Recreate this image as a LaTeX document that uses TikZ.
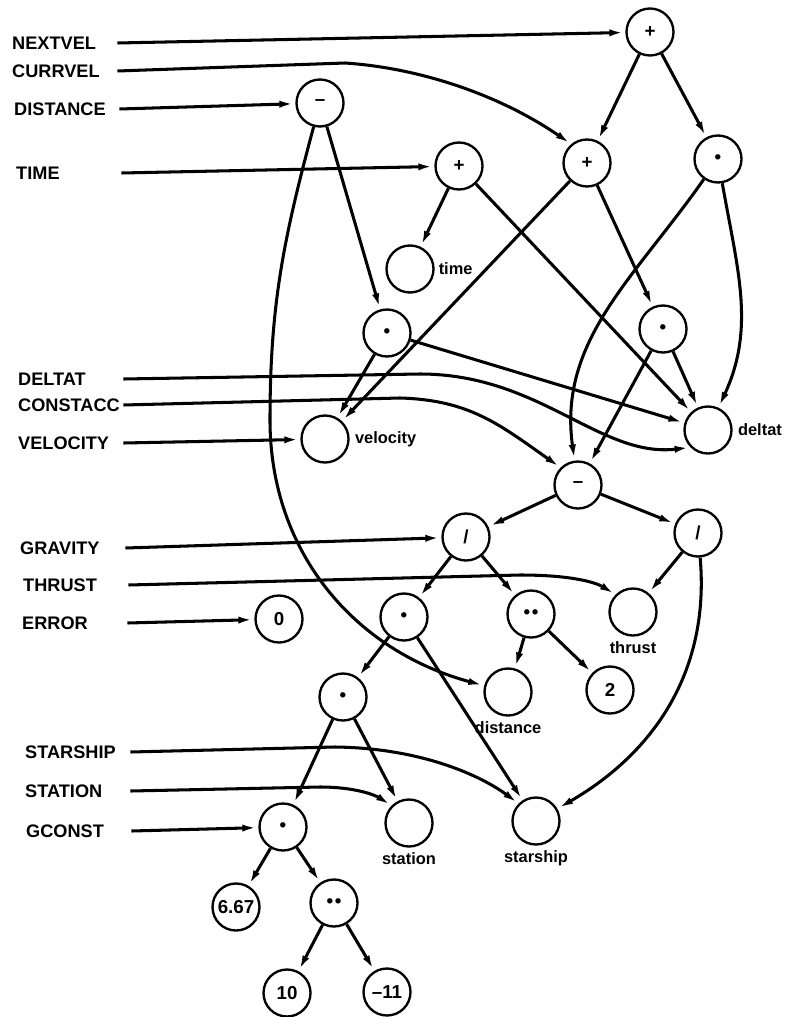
\documentclass[tikz,border=0pt]{standalone}
\usepackage{fontspec}
\setmainfont{Liberation Sans}
\usetikzlibrary{arrows.meta}

\begin{document}
\begin{tikzpicture}[x=0.03cm,y=-0.03cm]%%expression graph
                \tikzstyle{vertex} = [circle, minimum size=1.41cm, draw, line width=2pt, inner sep=0pt, font=\fontsize{16}{18}\selectfont\bfseries]
                \tikzstyle{inlab}  = [anchor=west, text width=3.15cm, inner sep=0pt, align=left, font=\fontsize{15.5}{18}\selectfont\bfseries]
                \tikzstyle{tag}    = [font=\fontsize{14}{16}\selectfont\bfseries, inner sep=1pt]
                \tikzstyle{edge}   = [line width=2.6pt, -{Latex[length=4.8mm,width=2.1mm]}]
                \useasboundingbox (0,0) rectangle (789,1017);
                % variable names
                \foreach \n/\t/\x/\y in {nextvel/NEXTVEL/12/43, currvel/CURRVEL/12/71, distance/DISTANCE/14/109,
                        time/TIME/16/173, deltat/DELTAT/18/379, constacc/CONSTACC/18/405, velocity/VELOCITY/18/443,
                        gravity/GRAVITY/20/548, thrust/THRUST/23/585, error/ERROR/22/623,
                        starship/STARSHIP/25/752, station/STATION/25/791, gconst/GCONST/26/831}
                {
                        \node [inlab](\n) at (\x,\y) {\t};
                }
                % operators and leaves
                \node [vertex](addN) at (650,32) {+};
                \node [vertex](subD) at (320,103) {\textendash};
                \node [vertex](addT) at (459,166) {+};
                \node [vertex](addV) at (587,163) {+};
                \node [vertex](mulD) at (718,159) {\textbullet};
                \node [vertex, label={[tag, label distance=0.08cm]right:time}](nTime) at (410,269) {};
                \node [vertex](mulV) at (387,333) {\textbullet};
                \node [vertex](mulR) at (663,329) {\textbullet};
                \node [vertex, label={[tag, label distance=0.12cm]right:velocity}](nVel) at (325,439) {};
                \node [vertex, label={[tag, label distance=0.12cm]right:deltat}](nDelt) at (708,430) {};
                \node [vertex](subC) at (578,485) {\textendash};
                \node [vertex](divG) at (466,537) {/};
                \node [vertex](divT) at (698,533) {/};
                \node [vertex, label={[tag, label distance=0.1cm]below:thrust}](nThr) at (633,612) {};
                \node [vertex](nZero) at (279,619) {0};
                \node [vertex](mulS) at (404,617) {\textbullet};
                \node [vertex](powD) at (531,614) {\textbullet\hspace{1.5pt}\textbullet};
                \node [vertex, label={[tag, label distance=0.1cm]below:distance}](nDist) at (508,692) {};
                \node [vertex](nTwo) at (610,690) {2};
                \node [vertex](mulG) at (343,697) {\textbullet};
                \node [vertex, label={[tag, label distance=0.1cm]below:station}](nStat) at (409,823) {};
                \node [vertex, label={[tag, label distance=0.1cm]below:starship}](nShip) at (536,821) {};
                \node [vertex](mulK) at (283,827) {\textbullet};
                \node [vertex](nSix) at (236,907) {6.67};
                \node [vertex](powE) at (334,903) {\textbullet\hspace{1.5pt}\textbullet};
                \node [vertex](nTen) at (287,993) {10};
                \node [vertex](nExp) at (387,992) {\textendash11};
                % inputs
                \draw [edge] (nextvel.east) -- (addN);
                \draw [edge] (currvel.east) -- (345,63) .. controls (420,68) and (500,95) .. (addV.130);
                \draw [edge] (distance.east) -- (subD);
                \draw [edge] (time.east) -- (addT);
                \draw [edge] (deltat.east) -- (420,374) .. controls (540,374) and (600,458) .. (nDelt.225);
                \draw [edge] (constacc.east) -- (400,398) .. controls (470,400) and (500,425) .. (subC.135);
                \draw [edge] (velocity.east) -- (nVel);
                \draw [edge] (gravity.east) -- (divG);
                \draw [edge] (thrust.east) -- (520,575) .. controls (570,575) and (595,582) .. (nThr.135);
                \draw [edge] (error.east) -- (nZero);
                \draw [edge] (starship.east) -- (335,747) .. controls (420,748) and (480,775) .. (nShip.135);
                \draw [edge] (station.east) -- (320,787) .. controls (355,787) and (375,795) .. (nStat.135);
                \draw [edge] (gconst.east) -- (mulK);
                % operands
                \foreach \a/\b in {addN/addV, addN/mulD, addV/nVel, addV/mulR, addT/nTime, addT/nDelt,
                        subD/mulV, mulV/nVel, mulV/nDelt, mulR/nDelt, mulR/subC, subC/divG, subC/divT,
                        divG/mulS, divG/powD, divT/nThr, mulS/mulG, mulS/nShip, powD/nDist, powD/nTwo,
                        mulG/mulK, mulG/nStat, mulK/nSix, mulK/powE, powE/nTen, powE/nExp}
                {
                        \draw [edge] (\a) -- (\b);
                }
                \draw [edge] (mulD) to[out=235, in=98] (subC);
                \draw [edge] (mulD) to[out=-80, in=65] (nDelt);
                \draw [edge] (subD) to[out=-105, in=90] (270,420) to[out=-90, in=165] (nDist);
                \draw [edge] (divT) to[out=-85, in=30] (nShip);
\end{tikzpicture}
\end{document}
